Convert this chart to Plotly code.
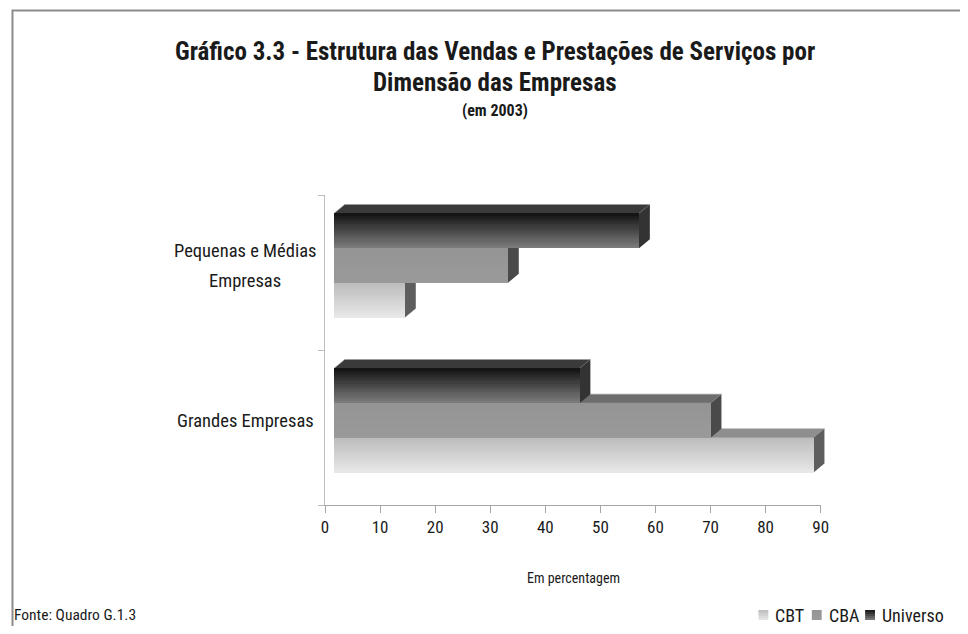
import plotly.graph_objects as go

# ---------------- data ----------------
categories = ["Grandes Empresas", "Pequenas e Médias<br>Empresas"]
series_names = ["CBT", "CBA", "Universo"]
cbt = [87.1, 12.9]
cba = [68.4, 31.6]
universo = [44.6, 55.4]
x_ticks = [0, 10, 20, 30, 40, 50, 60, 70, 80, 90]

title_l1 = "Gráfico 3.3 - Estrutura das Vendas e Prestações de Serviços por"
title_l2 = "Dimensão das Empresas"
title_l3 = "(em 2003)"
x_title = "Em percentagem"
source = "Fonte: Quadro G.1.3"

# ---------------- styling ----------------
PAGE_OFF = 8                      # default body margin of the html page
W, H = 968 - 2 * PAGE_OFF, 634 - 2 * PAGE_OFF
FONT = "Liberation Sans Narrow, Arial Narrow, Roboto Condensed, Liberation Sans, sans-serif"
TXT = "#1a1a1a"


def fx(p):
    """page x pixel -> paper fraction"""
    return (p - PAGE_OFF) / W


def fy(p):
    """page y pixel -> paper fraction"""
    return 1 - (p - PAGE_OFF) / H


def hex2rgb(h):
    h = h.lstrip("#")
    return tuple(int(h[i:i + 2], 16) for i in (0, 2, 4))


def mix(c1, c2, f):
    a, b = hex2rgb(c1), hex2rgb(c2)
    return "rgb(%d,%d,%d)" % tuple(round(a[i] + (b[i] - a[i]) * f) for i in range(3))


styles = {
    "CBT": dict(top="#bcbcbc", bottom="#e8e8e8", side="#5e5e5e", roof="#8e8e8e", slot=-1.5),
    "CBA": dict(top="#949494", bottom="#9a9a9a", side="#4a4a4a", roof="#6e6e6e", slot=-0.5),
    "Universo": dict(top="#121212", bottom="#7e7e7e", side="#333333", roof="#3a3a3a", slot=0.5),
}
values = {"CBT": cbt, "CBA": cba, "Universo": universo}

T = 0.2237          # bar thickness in category units
DX = 1.97           # 3D depth in value units
DY = 0.058          # 3D depth in category units
NSL = 16            # gradient slices

fig = go.Figure()
shapes = []
ypos = list(range(len(categories)))

for name in series_names:
    st = styles[name]
    vals = values[name]
    lo_off = st["slot"] * T
    for k in range(NSL):
        col = mix(st["bottom"], st["top"], (k + 0.5) / NSL)
        off = lo_off + k * T / NSL
        fig.add_trace(go.Bar(
            x=vals, y=ypos, orientation="h",
            base=0, width=T - k * T / NSL, offset=off,
            marker=dict(color=col, line=dict(width=0)),
            name=name, showlegend=False, hoverinfo="skip",
            xaxis="x", yaxis="y",
        ))
    for c, v in zip(ypos, vals):
        lo = c + lo_off
        hi = lo + T
        shapes.append(dict(
            type="path", xref="x", yref="y", layer="below",
            path=f"M 0,{hi} L {v},{hi} L {v + DX},{hi + DY} L {DX},{hi + DY} Z",
            fillcolor=st["roof"], line=dict(width=0.6, color="#9a9a9a"),
        ))
        shapes.append(dict(
            type="path", xref="x", yref="y", layer="below",
            path=f"M {v},{lo} L {v},{hi} L {v + DX},{hi + DY} L {v + DX},{lo + DY} Z",
            fillcolor=st["side"], line=dict(width=0),
        ))

# invisible trace for the visible (front) axes
fig.add_trace(go.Scatter(x=[0], y=[0], xaxis="x2", yaxis="y2", mode="markers",
                         marker=dict(opacity=0), showlegend=False, hoverinfo="skip"))

# frame
shapes.append(dict(type="rect", xref="paper", yref="paper",
                   x0=fx(8.5), x1=fx(980), y0=fy(650), y1=fy(10.5),
                   line=dict(color="#8c8c8c", width=2), fillcolor="rgba(0,0,0,0)", layer="below"))

annotations = []
for txt, yy, sz in [(title_l1, 51, 25), (title_l2, 82, 25), (title_l3, 110, 16)]:
    annotations.append(dict(text=f"<b>{txt}</b>", x=fx(497), y=fy(yy), xref="paper", yref="paper",
                            showarrow=False, xanchor="center", yanchor="middle",
                            font=dict(family=FONT, size=sz, color=TXT)))

for c, lab in zip(ypos, categories):
    lines = lab.split("<br>")
    if len(lines) == 1:
        annotations.append(dict(text=lab, x=fx(316), y=c, xref="paper", yref="y",
                                showarrow=False, xanchor="right", yanchor="middle",
                                font=dict(family=FONT, size=18.5, color=TXT)))
    else:
        n = len(lines)
        for i, ln in enumerate(lines):
            dy = (i - (n - 1) / 2) * 30 / 155.0
            annotations.append(dict(text=ln, x=fx(244), y=c - dy, xref="paper", yref="y",
                                    showarrow=False, xanchor="center", yanchor="middle",
                                    font=dict(family=FONT, size=18.5, color=TXT)))

annotations.append(dict(text=x_title, x=fx(577), y=fy(578), xref="paper", yref="paper",
                        showarrow=False, xanchor="center", yanchor="middle",
                        font=dict(family=FONT, size=14, color=TXT)))
annotations.append(dict(text=source, x=fx(8), y=fy(615), xref="paper", yref="paper",
                        showarrow=False, xanchor="left", yanchor="middle",
                        font=dict(family=FONT, size=15.5, color=TXT)))

# manual compact legend (square + label)
leg_x = [764, 818, 872]
for name, lx in zip(series_names, leg_x):
    st = styles[name]
    nst = 5
    for k in range(nst):
        col = mix(st["top"], st["bottom"], (k + 0.5) / nst)
        shapes.append(dict(type="rect", xref="paper", yref="paper",
                           x0=fx(lx), x1=fx(lx + 10),
                           y0=fy(610 + (k + 1) * 2), y1=fy(610 + k * 2),
                           fillcolor=col, line=dict(width=0)))
    annotations.append(dict(text=name, x=fx(lx + 15), y=fy(615), xref="paper", yref="paper",
                            showarrow=False, xanchor="left", yanchor="middle",
                            font=dict(family=FONT, size=18, color=TXT)))

SX, SY = 9, 7  # depth shift of the bar plane in pixels

fig.update_layout(
    width=W, height=H, autosize=False,
    margin=dict(l=0, r=0, t=0, b=0),
    paper_bgcolor="white", plot_bgcolor="rgba(0,0,0,0)",
    barmode="overlay", bargap=0,
    shapes=shapes, annotations=annotations,
    showlegend=False,
    xaxis=dict(domain=[fx(325 + SX), fx(827 + SX)], range=[0, 90], visible=False,
               anchor="y", fixedrange=True),
    yaxis=dict(domain=[fy(505 - SY), fy(195 - SY)], range=[-0.5, 1.5], visible=False,
               anchor="x", fixedrange=True),
    xaxis2=dict(domain=[fx(325), fx(827)], range=[0, 90], anchor="y2",
                showline=True, linecolor="#a6a6a6", linewidth=1,
                ticks="outside", ticklen=7, tickcolor="#a6a6a6",
                tickvals=x_ticks, ticktext=[str(t) for t in x_ticks],
                tickfont=dict(family=FONT, size=17, color=TXT),
                showgrid=False, zeroline=False, fixedrange=True),
    yaxis2=dict(domain=[fy(505), fy(195)], range=[-0.5, 1.5], anchor="x2",
                showline=True, linecolor="#bdbdbd", linewidth=1,
                ticks="outside", ticklen=6, tickcolor="#bdbdbd",
                tickvals=[-0.5, 0.5, 1.5], showticklabels=False,
                showgrid=False, zeroline=False, fixedrange=True),
)

fig.write_html("out.html")
